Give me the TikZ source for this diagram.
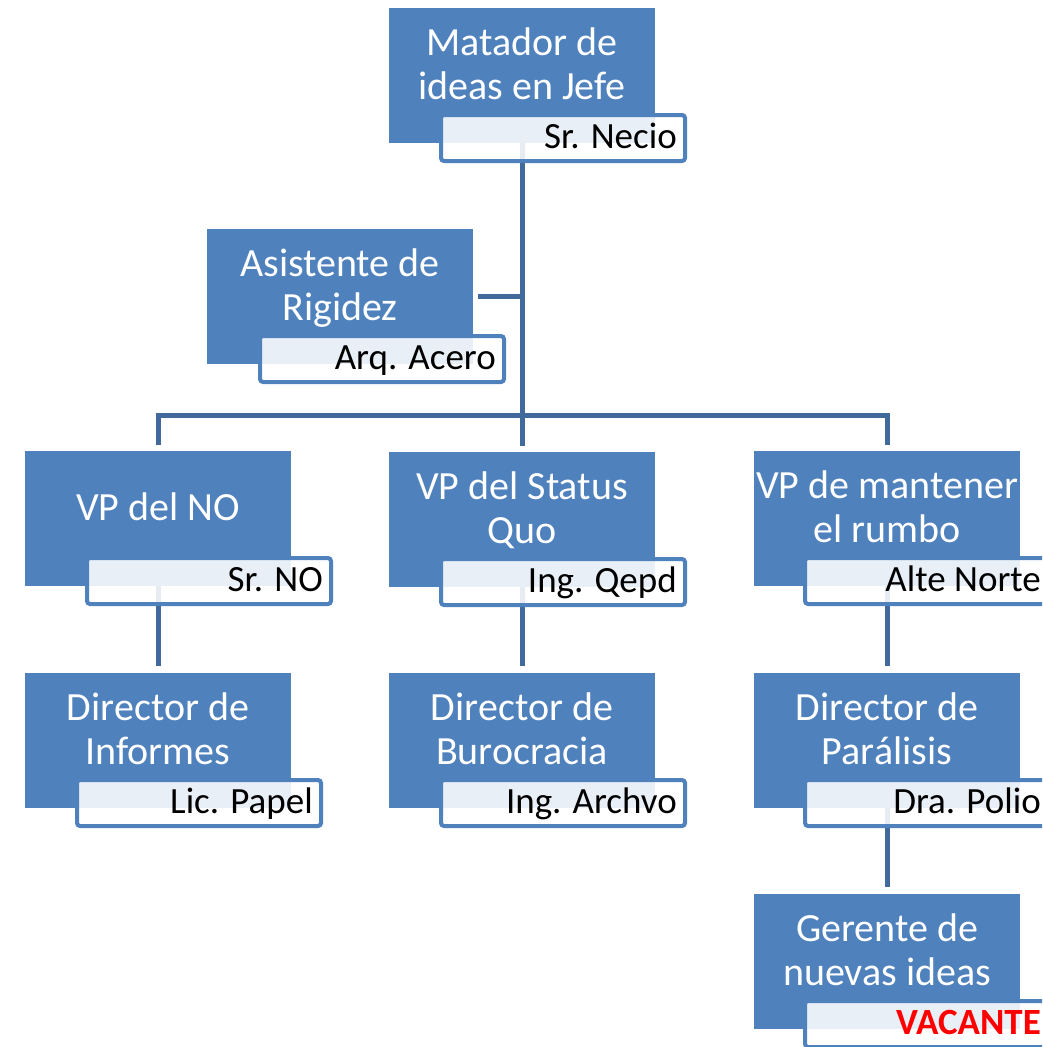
\documentclass[tikz,border=0pt]{standalone}
\usepackage{fontspec}
\setmainfont{Carlito}
\usetikzlibrary{backgrounds}
\definecolor{mainblue}{HTML}{4F81BD}
\definecolor{connblue}{HTML}{41699C}
\definecolor{vacred}{HTML}{FF0000}
\tikzset{
  mainbox/.style={fill=mainblue, draw=none, minimum width=266pt, minimum height=135pt, inner sep=0pt, outer sep=0pt},
  namebox/.style={draw=mainblue, line width=4pt, fill=white, fill opacity=0.88, rounded corners=3pt, minimum width=244pt, minimum height=46pt, inner sep=0pt, outer sep=0pt},
  titletext/.style={anchor=base, inner sep=0pt, text=white, font=\fontsize{40}{44}\selectfont},
  persontext/.style={anchor=base east, inner sep=0pt, text=black, font=\fontsize{37}{43}\selectfont},
  conn/.style={draw=connblue, line width=5pt}
}
\newcommand\OrgUnit[8]{%
  \node[mainbox, anchor=north west] (#1) at (#2,#3) {};
  \node[namebox, anchor=north west] (#1n) at ({#2+#4+2},{#3+107}) {};
  \node[titletext] (#1t) at ({#2+133},{#3+#5}) {\parbox[t]{320pt}{\centering #6}};
  \node[persontext] (#1p) at ({#2+#4+238},{#3+140.5}) {#8#7};
}
\begin{document}
\begin{tikzpicture}[x=1pt,y=-1pt]
\useasboundingbox (0,0) rectangle (1042,1047);
\clip (0,0) rectangle (1042,1047);
\OrgUnit{top}{389}{8}{50}{47}{Matador de\\ideas en Jefe}{Sr. Necio}{}
\OrgUnit{asist}{207}{229}{51}{47}{Asistente de\\Rigidez}{Arq. Acero}{}
\OrgUnit{vpno}{25}{451}{60}{69}{VP del NO}{Sr. NO}{}
\OrgUnit{vpsq}{389}{452}{50}{47}{VP del Status\\Quo}{Ing. Qepd}{}
\OrgUnit{vpmr}{754}{451}{49}{47}{VP de mantener\\el rumbo}{Alte Norte}{}
\OrgUnit{dinf}{25}{673}{50}{47}{Director de\\Informes}{Lic. Papel}{}
\OrgUnit{dbur}{389}{673}{50}{47}{Director de\\Burocracia}{Ing. Archvo}{}
\OrgUnit{dpar}{754}{673}{49}{47}{Director de\\Parálisis}{Dra. Polio}{}
\OrgUnit{ger}{754}{894}{49}{47}{Gerente de\\nuevas ideas}{VACANTE}{\color{vacred}\bfseries}
\begin{scope}[on background layer]
  \draw[conn] (top.south) -- ([yshift=6pt]vpsq.north);
  \draw[conn] ([xshift=5pt]asist.east) -- (asist.east -| top.south);
  \draw[conn] ([yshift=6pt]vpno.north) -- ++(0,-30) -| ([yshift=6pt]vpmr.north);
  \draw[conn] (vpno.south) -- ([yshift=7pt]dinf.north);
  \draw[conn] (vpsq.south) -- ([yshift=7pt]dbur.north);
  \draw[conn] (vpmr.south) -- ([yshift=7pt]dpar.north);
  \draw[conn] (dpar.south) -- ([yshift=7pt]ger.north);
\end{scope}
\end{tikzpicture}
\end{document}
